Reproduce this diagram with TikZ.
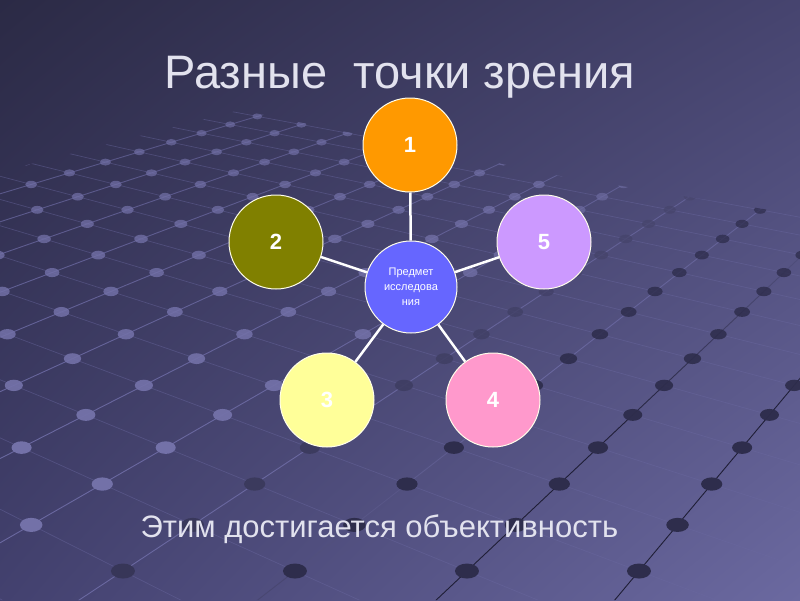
\documentclass[tikz,border=0pt]{standalone}
\usepackage{fontspec}
\setmainfont{Liberation Sans}
\usetikzlibrary{shadings}
\definecolor{bgUL}{HTML}{2B2A45}
\definecolor{bgUR}{HTML}{46446F}
\definecolor{bgLL}{HTML}{43416F}
\definecolor{bgLR}{HTML}{6B69A0}
\definecolor{dlight}{HTML}{7371A8}
\definecolor{ddark}{HTML}{2E2D4C}
\definecolor{llight}{HTML}{6A68A0}
\definecolor{ldark}{HTML}{1F1E36}
\definecolor{txtcol}{HTML}{E2E2EE}
\definecolor{c1}{HTML}{FF9900}
\definecolor{c2}{HTML}{808000}
\definecolor{c3}{HTML}{FFFF99}
\definecolor{c4}{HTML}{FF99CC}
\definecolor{c5}{HTML}{CC99FF}
\definecolor{cc}{HTML}{6666FF}
\begin{document}
\begin{tikzpicture}[x=1pt,y=-1pt,
  bub/.style={circle, minimum size=94pt, inner sep=0pt, draw=white!92!yellow, line width=1pt,
    text=white, font=\bfseries\fontsize{22}{22}\selectfont},
  conn/.style={draw=white, line width=2.5pt}]
\useasboundingbox (0,0) rectangle (800,600);
\shade[upper left=bgUL, upper right=bgUR, lower left=bgLL, lower right=bgLR] (0,0) rectangle (800,600);
% perspective grid
\begin{scope}
\clip (0,172) -- (240,110) -- (560,176) -- (800,215) -- (800,600) -- (0,600) -- cycle;
\foreach \i in {-11,...,2}{
  \foreach \k in {-1,...,24}{
    \pgfmathsetmacro\fa{1000/(1.314+0.0848*(\k))}
    \pgfmathsetmacro\fb{1000/(1.314+0.0848*(\k+1))}
    \pgfmathsetmacro\fc{1000/(1.314+0.0848*(\k-1))}
    \pgfmathsetmacro\sa{\fa/761}
    \pgfmathsetmacro\sb{\fb/761}
    \pgfmathsetmacro\sc{\fc/761}
    \pgfmathsetmacro\xa{1275+(295+172*(\i)-1275)*\sa}
    \pgfmathsetmacro\ya{\fa-190}
    \pgfmathsetmacro\xb{1275+(295+172*(\i)-1275)*\sb}
    \pgfmathsetmacro\yb{\fb-190}
    \pgfmathsetmacro\xc{1275+(295+172*(\i+1)-1275)*\sc}
    \pgfmathsetmacro\yc{\fc-190}
    \pgfmathtruncatemacro\tmix{max(0,min(100,(\ya+0.62*\xa-560)))}
    \pgfmathtruncatemacro\lmix{max(0,min(100,(\ya+0.62*\xa-720)))}
    \pgfmathsetmacro\op{min(1,0.25+0.9*\sa)}
    \pgfmathsetmacro\rx{12*\sa}
    \pgfmathsetmacro\ry{7.5*\sa}
    \draw[color=llight, line width=0.7pt, opacity=0.45] (\xa,\ya) -- (\xc,\yc);
    \draw[color=ldark!\lmix!llight, line width=0.9pt, opacity=\op] (\xa,\ya) -- (\xb,\yb);
    \fill[color=ddark!\tmix!dlight, opacity=\op] (\xa,\ya) ellipse[x radius=\rx, y radius=\ry];
  }
}
\end{scope}
% title
\node[anchor=base, font=\fontsize{47}{47}\selectfont, text=txtcol] (title) at (400,88) {Разные\ \ точки зрения};
% diagram
\node[bub, fill=cc, minimum size=92pt, font=\fontsize{11}{15}\selectfont, align=center] (c) at (411,287) {Предмет\\исследова\\ния};
\node[bub, fill=c1] (n1) at (410,145) {1};
\node[bub, fill=c2] (n2) at (276,242) {2};
\node[bub, fill=c5] (n5) at (544,242) {5};
\node[bub, fill=c3] (n3) at (327,400) {3};
\node[bub, fill=c4] (n4) at (493,400) {4};
\draw[conn] (c) -- (n1);
\draw[conn] (c) -- (n2);
\draw[conn] (c) -- (n5);
\draw[conn] (c) -- (n3);
\draw[conn] (c) -- (n4);
% conclusion
\node[anchor=base west, font=\fontsize{31}{31}\selectfont, text=txtcol] (concl) at (137,537) {Этим достигается объективность};
\end{tikzpicture}
\end{document}
